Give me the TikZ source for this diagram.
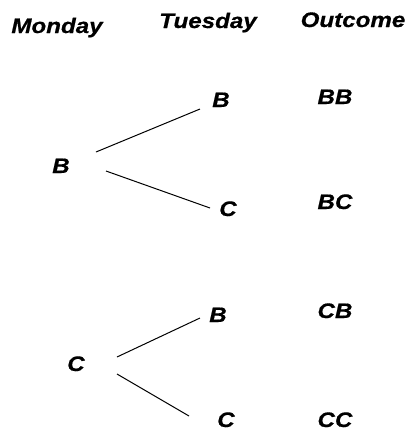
\documentclass[tikz,border=0pt]{standalone}
\usepackage{fontspec}
\setmainfont{Liberation Sans}
\newfontface\heavyfont{Liberation Sans Bold Italic}[FakeBold=0.6,FakeStretch=1.15]
\begin{document}
\begin{tikzpicture}[x=1bp,y=-1bp,
  lbl/.style={inner sep=0pt,anchor=base,font=\fontsize{21bp}{25bp}\heavyfont},
  branch/.style={draw=black,line width=1bp}]
\useasboundingbox (0,0) rectangle (414,430);
% headers
\node[lbl] (mon) at (57,33) {Monday};
\node[lbl] (tue) at (208,28) {Tuesday};
\node[lbl] (out) at (353,27) {Outcome};
% upper tree
\node[lbl] (b0) at (61,173) {B};
\node[lbl] (bb) at (221,107) {B};
\node[lbl] (bc) at (228,216) {C};
% lower tree
\node[lbl] (c0) at (76,371) {C};
\node[lbl] (cb) at (218,322) {B};
\node[lbl] (cc) at (226,427) {C};
% outcomes
\node[lbl] (oBB) at (335,104) {BB};
\node[lbl] (oBC) at (335,209) {BC};
\node[lbl] (oCB) at (335,318) {CB};
\node[lbl] (oCC) at (335,427) {CC};
% connector end points
\coordinate (b0u) at (96,152);
\coordinate (b0d) at (106,171);
\coordinate (bbin) at (200,109);
\coordinate (bcin) at (210,208);
\coordinate (c0u) at (117,357);
\coordinate (c0d) at (117,374);
\coordinate (cbin) at (200,318);
\coordinate (ccin) at (189,416);
\draw[branch] (b0u) -- (bbin);
\draw[branch] (b0d) -- (bcin);
\draw[branch] (c0u) -- (cbin);
\draw[branch] (c0d) -- (ccin);
\end{tikzpicture}
\end{document}
